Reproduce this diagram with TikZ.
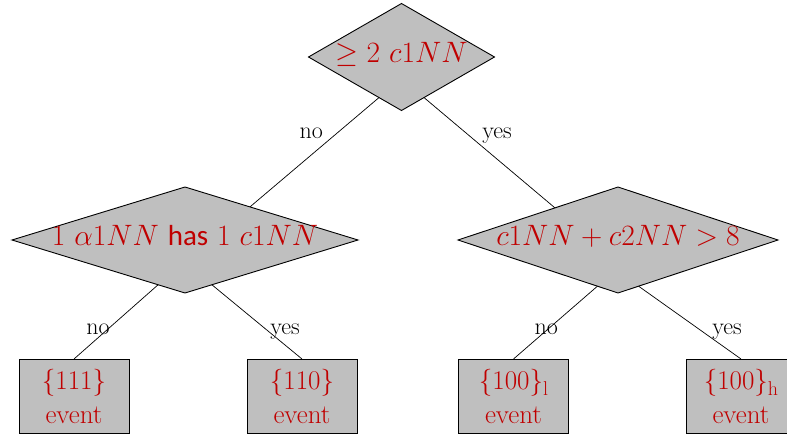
\RequirePackage{fix-cm}
\documentclass[tikz,border=0pt]{standalone}
\usepackage{fontspec}
\newfontfamily\calfont{Carlito}
\usepackage{tikz}
\usetikzlibrary{shapes.geometric}
\definecolor{rouge}{RGB}{192,0,0}
\definecolor{gris}{RGB}{191,191,191}
\newcommand{\indice}[1]{\raisebox{-6pt}{\fontsize{20}{20}\selectfont #1}}

\begin{document}
\begin{tikzpicture}[x=1pt,y=1pt,
  test/.style={diamond,draw,fill=gris,text=rouge,inner sep=0pt,outer sep=0pt,line width=0.9pt,text height=14pt,text depth=2pt,font=\fontsize{29.5}{32}\selectfont},
  feuille/.style={rectangle,draw,fill=gris,text=rouge,minimum width=110pt,minimum height=74pt,inner sep=0pt,outer sep=0pt,align=center,line width=0.9pt,font=\rmfamily\fontsize{27}{34}\selectfont},
  lien/.style={line width=0.7pt},
  choix/.style={font=\rmfamily\fontsize{24}{24}\selectfont,text height=1.5ex,text depth=.25ex,inner sep=0pt}]
\useasboundingbox (0,0) rectangle (787,437);
\clip (0,0) rectangle (787,437);
\node[test,aspect=1.74,minimum width=186pt,minimum height=107pt] (racine) at (401.5,380) {$\geq 2\ c1NN$};
\node[test,aspect=3.26,minimum width=346pt,minimum height=106pt] (gauche) at (185,197) {$1\ \alpha1NN$ {\calfont\fontsize{29}{32}\selectfont has} $1\ c1NN$};
\node[test,aspect=3.02,minimum width=320pt,minimum height=106pt] (droite) at (618,197) {$c1NN+c2NN>8$};
\node[feuille] (e111) at (74,41) {\{111\}\\event};
\node[feuille] (e110) at (302,41) {\{110\}\\event};
\node[feuille] (e100l) at (513.5,41) {\{100\}\indice{l}\\event};
\node[feuille] (e100h) at (741,41) {\{100\}\indice{h}\\event};
\draw[lien] (racine.241) -- node[choix,pos=0.35,xshift=-22.6pt] {no} (gauche.27);
\draw[lien] (racine.299) -- node[choix,pos=0.35,xshift=27.3pt] {yes} (droite.153);
\draw[lien] (gauche.239) -- node[choix,pos=0.635,xshift=-6.8pt] {no} (e111.north);
\draw[lien] (gauche.301) -- node[choix,pos=0.635,xshift=16pt] {yes} (e110.north);
\draw[lien] (droite.246) -- node[choix,pos=0.63,xshift=1.6pt] {no} (e100l.north);
\draw[lien] (droite.294) -- node[choix,pos=0.63,xshift=24pt] {yes} (e100h.north);
\end{tikzpicture}
\end{document}
